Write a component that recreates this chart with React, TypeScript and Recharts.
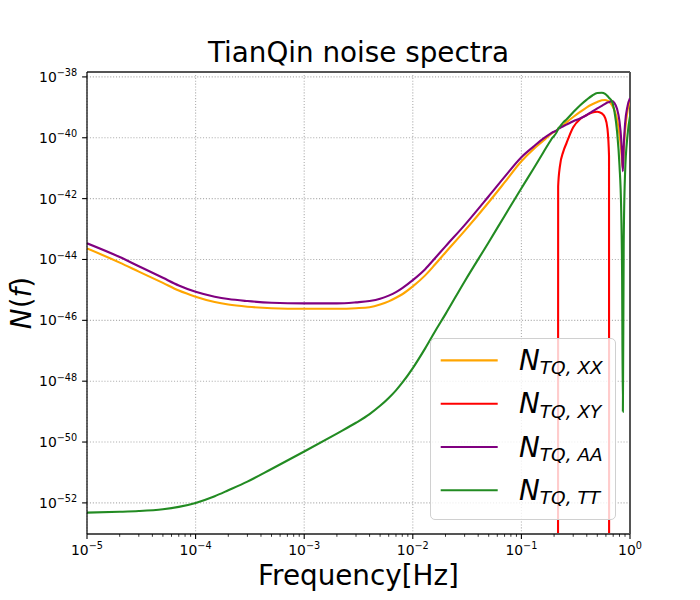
import { CartesianGrid, Label, Legend, Line, LineChart, ReferenceLine, XAxis, YAxis } from 'recharts'

// frequency grid in Hz
const frequency = [
  1e-5, 2e-5, 3e-5, 5e-5, 7e-5, 1e-4, 1.5e-4, 2e-4, 3e-4, 5e-4,
  1e-3, 2e-3, 3e-3, 4e-3, 5e-3, 6e-3, 7e-3, 8e-3,
  1e-2, 1.3e-2, 1.6e-2, 2e-2, 3e-2, 5e-2, 7e-2,
  0.1, 0.13, 0.16, 0.19, 0.2172, 0.218, 0.226, 0.243, 0.26,
  0.3, 0.35, 0.4, 0.45, 0.5, 0.55, 0.59, 0.62, 0.641, 0.6425,
  0.68, 0.72, 0.76, 0.8, 0.83, 0.845, 0.86, 0.875, 0.9, 0.95, 1.0,
]

const nXX = [
  2.3e-44, 7.9e-45, 4.0e-45, 1.7e-45, 9.5e-46, 6.0e-46, 4.0e-46, 3.3e-46, 2.8e-46, 2.5e-46,
  2.4e-46, 2.4e-46, 2.5e-46, 2.7e-46, 3.3e-46, 4.2e-46, 5.5e-46, 7.2e-46,
  1.3e-45, 3.0e-45, 6.8e-45, 1.7e-44, 8.7e-44, 7.6e-43, 3.4e-42,
  1.7e-41, 4.3e-41, 8.1e-41, 1.4e-40, 1.9e-40, 1.95e-40, 2.2e-40, 2.6e-40, 3.2e-40,
  4.8e-40, 7.2e-40, 1.0e-39, 1.26e-39, 1.5e-39, 1.7e-39, 1.74e-39, 1.66e-39, 1.55e-39, 1.54e-39,
  1.2e-39, 7.9e-40, 4.0e-40, 1.26e-40, 4.0e-41, 1.6e-41, 1.0e-41, 4.0e-41, 1.6e-40, 7.9e-40, 1.6e-39,
]

const nXY = [
  null, null, null, null, null, null, null, null, null, null,
  null, null, null, null, null, null, null, null,
  null, null, null, null, null, null, null,
  null, null, null, null, 1e-58, 2.5e-42, 1.12e-41, 3.5e-41, 6.6e-41,
  2.2e-40, 4.2e-40, 5.6e-40, 6.8e-40, 7.2e-40, 6.3e-40, 4.5e-40, 2.0e-40, 2.5e-41, 1e-58,
  null, null, null, null, null, null, null, null, null, null, null,
]

const nAA = [
  3.4e-44, 1.2e-44, 6.0e-45, 2.5e-45, 1.4e-45, 8.7e-46, 6.0e-46, 5.0e-46, 4.3e-46, 3.8e-46,
  3.6e-46, 3.6e-46, 3.9e-46, 4.3e-46, 5.1e-46, 6.5e-46, 8.5e-46, 1.15e-45,
  2.1e-45, 4.8e-45, 1.1e-44, 2.7e-44, 1.35e-43, 1.2e-42, 5.2e-42,
  2.3e-41, 5.2e-41, 9.5e-41, 1.45e-40, 1.9e-40, 1.95e-40, 2.1e-40, 2.4e-40, 2.7e-40,
  3.5e-40, 4.4e-40, 5.6e-40, 7.4e-40, 9.3e-40, 1.12e-39, 1.3e-39, 1.45e-39, 1.48e-39, 1.49e-39,
  1.6e-39, 1.38e-39, 8.9e-40, 3.5e-40, 8.9e-41, 2.8e-41, 7.9e-42, 5.0e-41, 2.8e-40, 1.12e-39, 2.0e-39,
]

const nTT = [
  4.8e-53, 5.1e-53, 5.4e-53, 6.2e-53, 7.4e-53, 1.0e-52, 1.66e-52, 2.6e-52, 5.0e-52, 1.3e-51,
  4.9e-51, 1.9e-50, 4.3e-50, 8.3e-50, 1.55e-49, 2.8e-49, 5.0e-49, 8.9e-49,
  2.7e-48, 1.2e-47, 4.3e-47, 1.6e-46, 1.9e-45, 3.7e-44, 2.7e-43,
  2.2e-42, 1.0e-41, 3.4e-41, 9.3e-41, 1.9e-40, 2.0e-40, 2.3e-40, 3.2e-40, 4.0e-40,
  6.9e-40, 1.2e-39, 1.8e-39, 2.45e-39, 2.95e-39, 3.0e-39, 2.75e-39, 2.35e-39, 2.05e-39, 2.03e-39,
  1.6e-39, 7.1e-40, 1.6e-40, 1.26e-41, 4.0e-43, 5.0e-45, 1.0e-49, 3.2e-44, 6.3e-42, 1.26e-40, 5.0e-40,
]

const seriesOrder = ['xx', 'xy', 'aa', 'tt']
const xTicks = [1e-5, 1e-4, 1e-3, 1e-2, 1e-1, 1]
const xTickExp = ['−5', '−4', '−3', '−2', '−1', '0']
const yTicks = [1e-52, 1e-50, 1e-48, 1e-46, 1e-44, 1e-42, 1e-40, 1e-38]
const yTickExp = ['−52', '−50', '−48', '−46', '−44', '−42', '−40', '−38']
const minorMult = [2, 3, 4, 5, 6, 7, 8, 9]
const xMinorTicks = xTicks.slice(0, -1).flatMap((d) => minorMult.map((m) => m * d))
const xDomain = [1e-5, 1]
const yDomain = [9.5e-54, 1.45e-38]

const rows = frequency.map((f, i) => ({ f, xx: nXX[i], xy: nXY[i], aa: nAA[i], tt: nTT[i] }))

const FONT = 'DejaVu Sans'

function XTick({ x, y, payload }: any) {
  const i = xTicks.indexOf(payload.value)
  const major = i >= 0
  return (
    <g>
      <line x1={x} x2={x} y1={y} y2={y + (major ? 4.9 : 2.8)} stroke="#000" strokeWidth={major ? 1.1 : 0.8} />
      {major && (
        <text x={x} y={y + 21} textAnchor="middle" fontSize={13.9} fontFamily={FONT} fill="#000">
          10<tspan dy={-5.7} fontSize={9.7}>{xTickExp[i]}</tspan>
        </text>
      )}
    </g>
  )
}

function YTick({ x, y, payload }: any) {
  const i = yTicks.indexOf(payload.value)
  return (
    <g>
      <line x1={x - 4.9} x2={x} y1={y} y2={y} stroke="#000" strokeWidth={1.1} />
      <text x={x - 9.8} y={y + 5} textAnchor="end" fontSize={13.9} fontFamily={FONT} fill="#000">
        10<tspan dy={-5.6} fontSize={9.7}>{yTickExp[i]}</tspan>
      </text>
    </g>
  )
}

function XLabel({ viewBox }: any) {
  const { x, y, width } = viewBox
  return (
    <text x={x + width / 2} y={y + 51} textAnchor="middle" fontSize={27.8} fontFamily={FONT} fill="#000">
      Frequency[Hz]
    </text>
  )
}

function YLabel({ viewBox }: any) {
  const { x, y, height } = viewBox
  const cx = x + 24
  const cy = y + height / 2
  return (
    <text x={cx} y={cy} transform={`rotate(-90 ${cx} ${cy})`} textAnchor="middle" fontSize={27.8} fontFamily={FONT} fill="#000">
      <tspan fontStyle="italic">N</tspan>(<tspan fontStyle="italic">f</tspan>)
    </text>
  )
}

function LegendBox({ payload }: any) {
  const items = [...(payload ?? [])].sort(
    (a: any, b: any) => seriesOrder.indexOf(a.dataKey) - seriesOrder.indexOf(b.dataKey),
  )
  return (
    <div
      style={{
        boxSizing: 'border-box',
        width: 186,
        height: 182,
        border: '1px solid #d0d0d0',
        borderRadius: 5,
        background: 'rgba(255,255,255,0.8)',
      }}
    >
      <svg width={184} height={180} style={{ display: 'block' }}>
        {items.map((entry: any, i: number) => {
          const ly = 21.4 + i * 43.3
          return (
            <g key={entry.value}>
              <line x1={9.7} x2={66.7} y1={ly} y2={ly} stroke={entry.color} strokeWidth={2.1} />
              <text x={88} y={ly + 9.5} fontFamily={FONT} fill="#000" fontStyle="italic" fontSize={27.8}>
                N<tspan dy={4.5} fontSize={18.5}>{entry.value}</tspan>
              </text>
            </g>
          )
        })}
      </svg>
    </div>
  )
}

export default function App() {
  return (
    <div style={{ position: 'absolute', left: 0, top: 0, width: 700, height: 600, background: '#fff', fontFamily: FONT }}>
      <div
        style={{
          position: 'absolute',
          left: 87,
          width: 543,
          top: 37,
          lineHeight: '32px',
          fontSize: 27.8,
          textAlign: 'center',
          color: '#000',
        }}
      >
        TianQin noise spectra
      </div>
      <LineChart width={700} height={600} data={rows} margin={{ top: 72, right: 70, bottom: 36, left: 7 }}>
        <CartesianGrid
          stroke="#b0b0b0"
          strokeWidth={1.1}
          strokeDasharray="1.1 1.8"
          verticalValues={xTicks}
          horizontalValues={yTicks}
        />
        <XAxis
          dataKey="f"
          type="number"
          scale="log"
          domain={xDomain}
          allowDataOverflow
          ticks={[...xTicks, ...xMinorTicks]}
          interval={0}
          tick={<XTick />}
          tickLine={false}
          tickSize={0}
          tickMargin={0}
          height={30}
          axisLine={{ stroke: '#555', strokeWidth: 2 }}
        >
          <Label content={<XLabel />} />
        </XAxis>
        <YAxis
          type="number"
          scale="log"
          domain={yDomain}
          allowDataOverflow
          ticks={yTicks}
          interval={0}
          tick={<YTick />}
          tickLine={false}
          tickSize={0}
          tickMargin={0}
          width={80}
          axisLine={{ stroke: '#000', strokeWidth: 1.2 }}
        >
          <Label content={<YLabel />} />
        </YAxis>
        <ReferenceLine y={yDomain[1]} stroke="#555" strokeWidth={2} />
        <ReferenceLine x={xDomain[1]} stroke="#555" strokeWidth={2} />
        <Line dataKey="xx" name="TQ, XX" stroke="#FFA500" strokeWidth={2.1} type="monotone" dot={false} activeDot={false} isAnimationActive={false} />
        <Line dataKey="xy" name="TQ, XY" stroke="#FF0000" strokeWidth={2.1} type="monotone" dot={false} activeDot={false} isAnimationActive={false} />
        <Line dataKey="aa" name="TQ, AA" stroke="#800080" strokeWidth={2.1} type="monotone" dot={false} activeDot={false} isAnimationActive={false} />
        <Line dataKey="tt" name="TQ, TT" stroke="#228B22" strokeWidth={2.1} type="monotone" dot={false} activeDot={false} isAnimationActive={false} />
        <Legend
          layout="horizontal"
          verticalAlign="middle"
          align="center"
          content={<LegendBox />}
          wrapperStyle={{ left: 430, top: 338, width: 186, height: 182 }}
        />
      </LineChart>
    </div>
  )
}
